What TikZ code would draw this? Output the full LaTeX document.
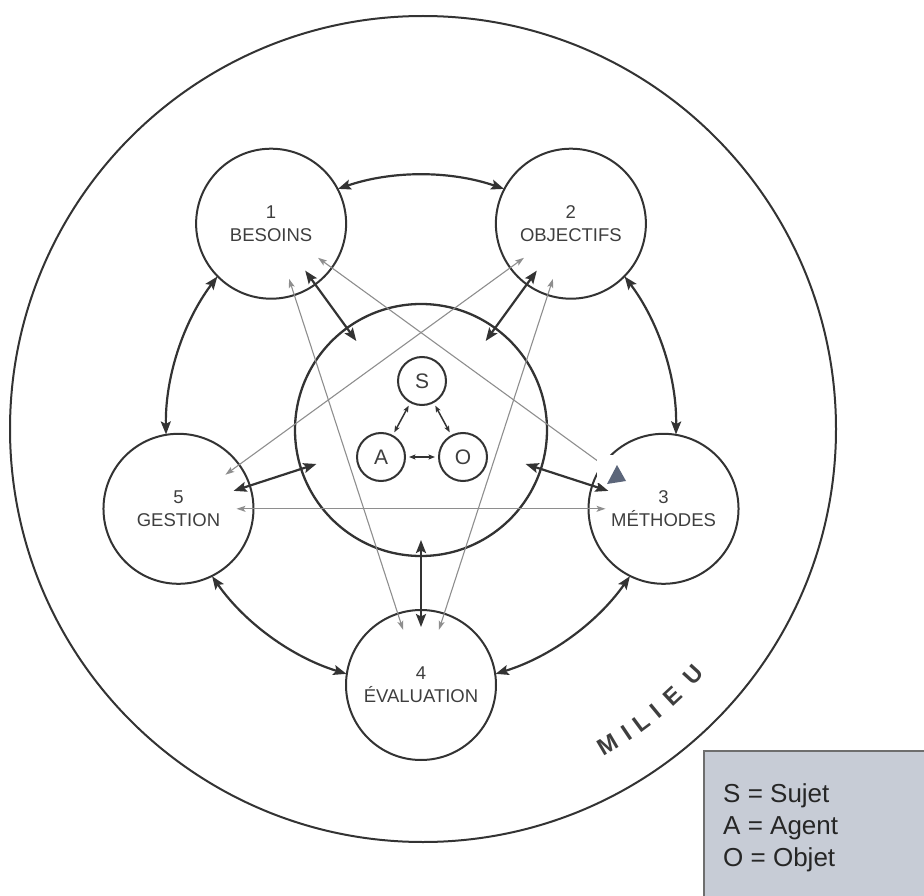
\documentclass[tikz,border=0pt]{standalone}
\usepackage{fontspec}
\setmainfont{Liberation Sans}
\usetikzlibrary{arrows.meta,calc}
\definecolor{inkc}{HTML}{333333}
\definecolor{labelc}{HTML}{3E3E3E}
\definecolor{faintc}{HTML}{8E8E8E}
\definecolor{tipblue}{HTML}{5C667A}
\definecolor{legendfill}{HTML}{C7CCD6}
\definecolor{legendedge}{HTML}{6E6E6E}
\begin{document}
\begin{tikzpicture}[x=1pt,y=1pt,
  bigtip/.tip={Stealth[length=13pt,width=10pt,inset=2.5pt]},
  thintip/.tip={Stealth[length=9pt,width=6pt,inset=2pt]},
  smalltip/.tip={Stealth[length=6.5pt,width=5pt,inset=1.5pt]},
  station/.style={circle,draw=inkc,line width=2pt,minimum size=150pt,inner sep=0pt,
    align=center,text=labelc,font=\fontsize{18.5}{23}\selectfont},
  hub/.style={circle,draw=inkc,line width=2.3pt,minimum size=252pt,inner sep=0pt},
  agentc/.style={circle,draw=inkc,line width=2pt,minimum size=48pt,inner sep=0pt,
    text=labelc,font=\fontsize{21}{21}\selectfont},
  ring/.style={draw=inkc,line width=2.2pt,{bigtip}-{bigtip}},
  spoke/.style={draw=inkc,line width=2.2pt,{bigtip}-{bigtip},shorten <=110pt,shorten >=58pt},
  diag/.style={draw=faintc,line width=1.1pt,{thintip}-{thintip},shorten <=58pt,shorten >=58pt},
  tri/.style={draw=inkc,line width=1.5pt,{smalltip}-{smalltip},shorten <=3pt,shorten >=3pt},
  milieuletter/.style={text=labelc,font=\fontsize{23.5}{23.5}\selectfont\bfseries,inner sep=0pt},
  legendline/.style={anchor=base west,inner sep=0pt,text=black!85,font=\fontsize{26}{26}\selectfont}
]
\useasboundingbox (0,0) rectangle (924,-896);
\clip (0,0) rectangle (924,-896);

% environment and centre
\coordinate (Om) at (423,-429);
\coordinate (C) at (421,-430);
\node[circle,draw=inkc,line width=2pt,minimum size=826pt,inner sep=0pt] (milieu) at (Om) {};
\node[hub] (hub) at (C) {};

% the five stations on a pentagon around the centre
\node[station] (besoins)    at ([shift={(126:255)}]C) {1\\BESOINS};
\node[station] (objectifs)  at ([shift={(54:255)}]C)  {2\\OBJECTIFS};
\node[station] (methodes)   at ([shift={(-18:255)}]C) {3\\MÉTHODES};
\node[station] (evaluation) at ([shift={(-90:255)}]C) {4\\ÉVALUATION};
\node[station] (gestion)    at ([shift={(198:255)}]C) {5\\GESTION};

% ring of arcs between neighbouring stations
\draw[ring] ([shift={(109:255)}]C)  arc[start angle=109, end angle=71,  radius=255];
\draw[ring] ([shift={(37:255)}]C)   arc[start angle=37,  end angle=-1,  radius=255];
\draw[ring] ([shift={(-35:255)}]C)  arc[start angle=-35, end angle=-73, radius=255];
\draw[ring] ([shift={(-107:255)}]C) arc[start angle=-107,end angle=-145,radius=255];
\draw[ring] ([shift={(-179:255)}]C) arc[start angle=-179,end angle=-217,radius=255];

% spokes from the centre to each station
\draw[spoke] (hub.center) -- (besoins.center);
\draw[spoke] (hub.center) -- (objectifs.center);
\draw[spoke] (hub.center) -- (methodes.center);
\draw[spoke] (hub.center) -- (evaluation.center);
\draw[spoke] (hub.center) -- (gestion.center);

% pentagram of thin links
\draw[diag] (besoins.center) -- (evaluation.center);
\draw[diag] (objectifs.center) -- (gestion.center);
\draw[diag] (objectifs.center) -- (evaluation.center);
\draw[diag] (gestion.center) -- (methodes.center);
\draw[draw=faintc,line width=1.1pt,{thintip}-,shorten <=58pt,shorten >=58pt] (besoins.center) -- (methodes.center);
\fill[white] (597,-455) rectangle (632,-483);
\fill[tipblue] (617,-465) -- (607,-484) -- (626,-481) -- cycle;

% subject, agent, object
\node[agentc] (S) at (422,-381) {S};
\node[agentc] (A) at (381,-457) {A};
\node[agentc] (Ob) at (463,-457) {O};
\draw[tri] (S) -- (A);
\draw[tri] (S) -- (Ob);
\draw[tri] (A) -- (Ob);

% label along the environment circle
\foreach \ang/\ch [count=\i] in {-59.6/M,-56.1/I,-53.4/L,-50.5/I,-47.0/E,-42.3/U}
  \node[milieuletter,rotate=90+\ang] (mil\i) at ([shift={(\ang:366)}]Om) {\ch};

% legend
\node[draw=legendedge,fill=legendfill,line width=1.5pt,anchor=north west,
  minimum width=240pt,minimum height=170pt,inner sep=0pt] (legend) at (703,-750) {};
\node[legendline] (lS) at (723,-802) {S = Sujet};
\node[legendline] (lA) at (723,-834) {A = Agent};
\node[legendline] (lO) at (723,-866) {O = Objet};
\end{tikzpicture}
\end{document}
